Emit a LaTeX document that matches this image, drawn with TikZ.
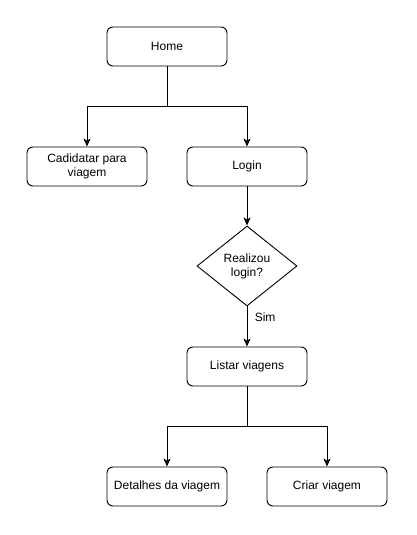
\documentclass[tikz,border=0pt]{standalone}
\usepackage{fontspec}
\setmainfont{Liberation Sans}
\usepackage{tikz}
\usetikzlibrary{arrows.meta}
\usetikzlibrary{shapes.geometric}
\usetikzlibrary{positioning}

\tikzset{
  box/.style={draw, rounded corners=6pt, minimum width=120pt, minimum height=39pt,
    align=center, font=\fontsize{12}{14}\selectfont, line width=0.9pt},
  decision/.style={draw, diamond, minimum width=100pt, minimum height=80pt, inner sep=0pt,
    align=center, font=\fontsize{12}{14}\selectfont, line width=0.9pt},
  flow/.style={-{Stealth[length=8pt,width=7pt,inset=2pt]}, line width=0.9pt}
}

\begin{document}
\begin{tikzpicture}[x=1pt, y=-1pt]

    \useasboundingbox (0, 0) rectangle (416, 535);

    \node [box] (home) at (167, 46.5) {Home};
    \node [box] (cand) at (87, 166.5) {Cadidatar para\\viagem};
    \node [box] (login) at (247, 166.5) {Login};
    \node [decision] (realizou) at (247, 266) {Realizou\\login?};
    \node [box] (listar) at (247, 366.5) {Listar viagens};
    \node [box] (detalhes) at (167, 486.5) {Detalhes da viagem};
    \node [box] (criar) at (327, 486.5) {Criar viagem};

    \coordinate (split1) at (167, 106);
    \coordinate (split2) at (247, 426);

    \draw [flow] (home.south) -- (split1) -| (cand.north);
    \draw [flow] (split1) -| (login.north);
    \draw [flow] (login.south) -- (realizou.north);
    \draw [flow] (realizou.south) -- (listar.north)
      node [pos=0.28, right=4pt, font=\fontsize{12}{14}\selectfont] {Sim};
    \draw [flow] (listar.south) -- (split2) -| (detalhes.north);
    \draw [flow] (split2) -| (criar.north);

  \end{tikzpicture}
\end{document}
